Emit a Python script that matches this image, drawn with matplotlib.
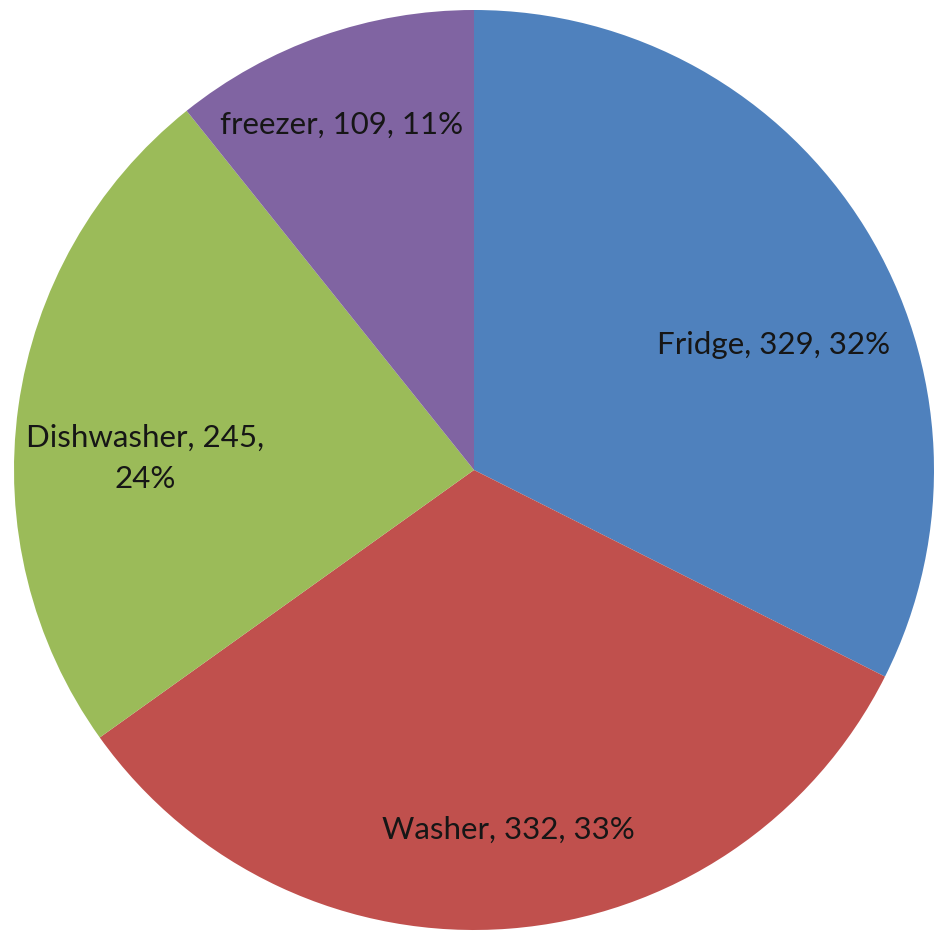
import numpy as np
import matplotlib.pyplot as plt

# appliance counts
labels = ['Fridge', 'Washer', 'Dishwasher', 'freezer']
counts = [329, 332, 245, 109]
colors = ['#4F81BD', '#C0504D', '#9BBB59', '#8064A2']
# label text as shown (Excel-style "name, value, percent")
label_text = ['Fridge, 329, 32%', 'Washer, 332, 33%', 'Dishwasher, 245,\n24%', 'freezer, 109, 11%']
# where each label sits: angle (deg) and fraction of radius
label_angle = [22.7, -84.6, 178.0, 111.0]
label_rad = [0.705, 0.786, 0.715, 0.805]

W, H = 934, 932
cx, cy, R = 474, 470, 460

fig = plt.figure(figsize=(W / 100, H / 100), dpi=100)
ax = fig.add_axes([0, 0, 1, 1])
ax.pie(counts, colors=colors, startangle=90, counterclock=False,
       radius=1.0, wedgeprops=dict(linewidth=0))
ax.set_xlim(-cx / R, (W - cx) / R)
ax.set_ylim(-(H - cy) / R, cy / R)
ax.set_aspect('auto')
ax.axis('off')

for txt, a, r in zip(label_text, label_angle, label_rad):
    t = np.deg2rad(a)
    ax.text(r * np.cos(t), r * np.sin(t), txt, ha='center', va='center',
            fontsize=22.5, family='Lato', color='#161616', linespacing=1.55)

fig.savefig('out.png', dpi=100)
